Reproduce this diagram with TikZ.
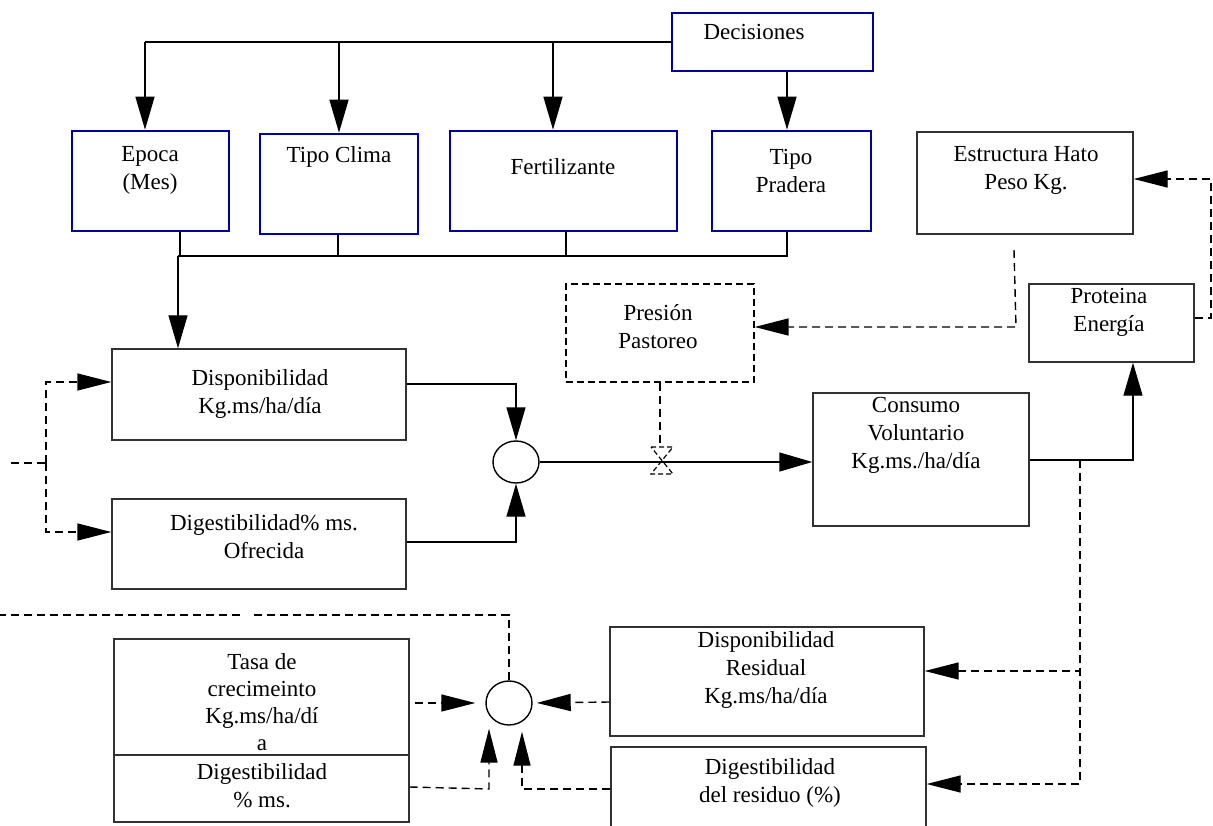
\documentclass[tikz,border=0pt]{standalone}
\usepackage{fontspec}
\setmainfont{Liberation Serif}
\usetikzlibrary{arrows.meta,fit,shapes.geometric}
\definecolor{boxblue}{RGB}{0,0,160}
\definecolor{boxgray}{RGB}{50,50,50}
\begin{document}
\begin{tikzpicture}[x=1pt,y=-1pt,
  txt/.style={align=center,inner sep=0pt,font=\fontsize{23}{28}\selectfont},
  bluebox/.style={draw=boxblue,line width=2.6pt,inner sep=0pt},
  blackbox/.style={draw=boxgray,line width=1.4pt,inner sep=0pt},
  dashbox/.style={draw=black,line width=1.3pt,dash pattern=on 7pt off 4pt,inner sep=0pt},
  link/.style={line width=1.4pt},
  flow/.style={link,-{Triangle[length=33pt,width=19pt]}},
  dlink/.style={line width=1.4pt,dash pattern=on 8pt off 5pt},
  dflow/.style={dlink,-{Triangle[length=34pt,width=17pt]}},
  junc/.style={ellipse,draw,line width=1.4pt,inner sep=0pt}]
\useasboundingbox (0,0) rectangle (1213,826);
\clip (0,0) rectangle (1213,826);
\fill[white] (0,0) rectangle (1213,826);

% ---- decision boxes ----
\node[bluebox,fit={(672,13)(873,71)}] (dec) {};
\node[txt] (decT) at (754,32) {Decisiones};
\node[bluebox,fit={(72,131)(229,231)}] (epoca) {};
\node[txt] (epocaT) at (150,170) {Epoca\\(Mes)};
\node[bluebox,fit={(260,134)(418,234)}] (clima) {};
\node[txt] (climaT) at (339,157) {Tipo Clima};
\node[bluebox,fit={(450,131)(677,231)}] (fert) {};
\node[txt] (fertT) at (563,167) {Fertilizante};
\node[bluebox,fit={(712,131)(871,231)}] (prad) {};
\node[txt] (pradT) at (791,171) {Tipo\\Pradera};

% ---- model boxes ----
\node[blackbox,fit={(917,132)(1133,234)}] (estr) {};
\node[txt] (estrT) at (1026,170) {Estructura Hato\\Peso Kg.};
\node[blackbox,fit={(1029,284)(1194,362)}] (prot) {};
\node[txt] (protT) at (1109,312) {Proteina\\Energía};
\node[dashbox,fit={(566,284)(754,382)}] (pres) {};
\node[txt] (presT) at (658,327) {Presión\\Pastoreo};
\node[blackbox,fit={(112,349)(406,440)}] (disp) {};
\node[txt] (dispT) at (260,394) {Disponibilidad\\Kg.ms/ha/día};
\node[blackbox,fit={(112,499)(406,589)}] (dig) {};
\node[txt] (digT) at (264,537) {Digestibilidad\% ms.\\Ofrecida};
\node[blackbox,fit={(813,393)(1029,526)}] (cons) {};
\node[txt] (consT) at (916,435) {Consumo\\Voluntario\\Kg.ms./ha/día};
\node[blackbox,fit={(610,627)(924,736)}] (resid) {};
\node[txt] (residT) at (766,670) {Disponibilidad\\Residual\\Kg.ms/ha/día};
\node[blackbox,fit={(611,747)(926,850)}] (resdig) {};
\node[txt] (resdigT) at (770,783) {Digestibilidad\\del residuo (\%)};
\node[blackbox,fit={(114,639)(409,822)}] (tasa) {};
\draw[boxgray,line width=1.4pt] (tasa.west |- 0,755) -- (tasa.east |- 0,755);
\node[txt,font=\fontsize{23}{27}\selectfont] (tasaT) at (262,702) {Tasa de\\crecimeinto\\Kg.ms/ha/dí\\a};
\node[txt] (tasaD) at (262,786) {Digestibilidad\\\% ms.};

% ---- junctions ----
\node[junc,minimum width=46pt,minimum height=42pt] (c1) at (516,462) {};
\node[junc,minimum width=46pt,minimum height=44pt] (c2) at (509,703) {};

% ---- decisions to inputs ----
\coordinate (top) at (145,42);
\draw[link] (dec.west) -- (top);
\draw[flow] (top) -- (top |- epoca.north);
\draw[flow] (339,42) -- (clima.north -| 339,0);
\draw[flow] (553,42) -- (fert.north -| 553,0);
\draw[flow] (dec.south -| 787,0) -- (prad.north -| 787,0);

% ---- inputs to availability ----
\coordinate (bus) at (178,256);
\draw[link] (epoca.south -| 180,0) -- (180,256);
\draw[link] (clima.south -| 338,0) -- (338,256);
\draw[link] (fert.south -| 566,0) -- (566,256);
\draw[link] (prad.south -| 787,0) -- (787,256) -- (bus);
\draw[flow] (bus) -- (disp.north -| bus);

% ---- left feed ----
\coordinate (lfeed) at (46,463);
\draw[dlink] (11,463) -- (lfeed);
\draw[dflow] (lfeed) |- (disp.west |- 0,382);
\draw[dflow] (lfeed) |- (dig.west |- 0,532);

% ---- offer to intake ----
\draw[flow] (disp.east |- 0,384) -| (c1.north);
\draw[flow] (dig.east |- 0,542) -| (c1.south);
\draw[flow] (c1.east) -- (c1.east -| cons.west);
\coordinate (valve) at (662,461);
\draw[line width=1.2pt,dash pattern=on 5pt off 3pt] (651,447) -- (673,447) -- (651,474) -- (673,474) -- cycle;
\draw[dlink] (pres.south) -- (pres.south |- 0,447);

% ---- intake outputs ----
\draw[flow] (cons.east |- 0,460) -| (prot.south -| 1133,0);
\coordinate (cj) at (1080,460);
\draw[dlink] (cj) -- (1080,784);
\draw[dflow] (cj) |- (resid.east |- 0,671);
\draw[dflow] (cj) |- (resdig.east |- 0,784);

% ---- herd feedback ----
\draw[dflow] (prot.east |- 0,318) -- (1211,318) |- (estr.east |- 0,179);
\coordinate (eh) at (1014,250);
\draw[dflow] (eh) -- (1016,327) -- (pres.east |- 0,327);

% ---- residual balance ----
\draw[dflow,shorten <=5pt,shorten >=10pt] (tasa.east |- 0,703) -- (c2.west);
\draw[dflow,shorten >=4pt] (resid.west |- 0,702) -- (c2.east);
\draw[dflow,shorten >=3pt] (tasa.east |- 0,787) -- (489,789) -- (c2.south -| 489,0);
\draw[dflow,shorten >=6pt] (resdig.west |- 0,789) -| (c2.south -| 522,0);
\draw[dlink] (c2.north) -- (509,615) -- (254,615);
\draw[dlink] (240,615) -- (0,615);
\end{tikzpicture}
\end{document}
